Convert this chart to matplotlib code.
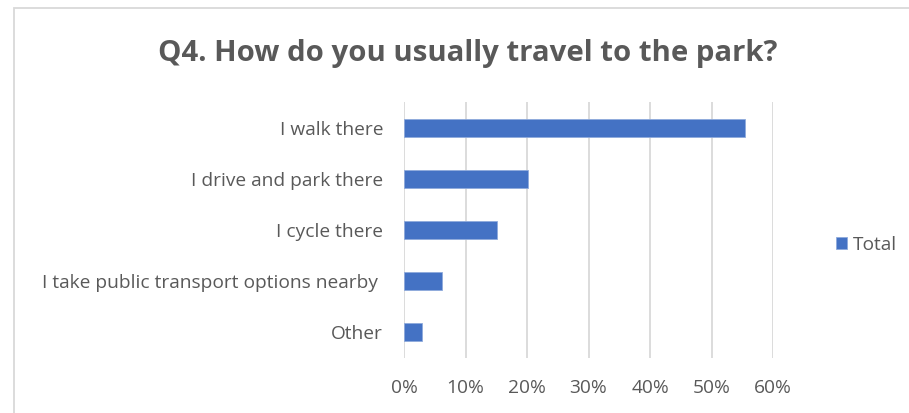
import matplotlib.pyplot as plt
from matplotlib.patches import Rectangle
from matplotlib.ticker import PercentFormatter

categories = ['I walk there', 'I drive and park there', 'I cycle there',
              'I take public transport options nearby ', 'Other']
values = [0.554, 0.202, 0.152, 0.061, 0.030]
ticks = [0, 0.1, 0.2, 0.3, 0.4, 0.5, 0.6]

plt.rcParams['font.family'] = ['Open Sans', 'DejaVu Sans']
grey = '#595959'
blue = '#4472C4'

fig = plt.figure(figsize=(9.09, 4.13), dpi=100)
ax = fig.add_axes([404 / 909, 1 - 358 / 413, 369 / 909, 256 / 413])

ypos = list(range(len(categories)))
ax.barh(ypos, values, height=0.35, color=blue, edgecolor='#8FAADC',
        linewidth=0.6, label='Total', zorder=3)
ax.set_yticks(ypos)
ax.set_yticklabels(categories, fontsize=13.8, color=grey)
ax.set_ylim(len(categories) - 0.5, -0.5)
ax.set_xlim(0, 0.6)
ax.set_xticks(ticks)
ax.xaxis.set_major_formatter(PercentFormatter(1.0, decimals=0))
ax.tick_params(axis='x', labelsize=13.8, labelcolor=grey, length=0, pad=15)
ax.tick_params(axis='y', length=0, pad=15)
ax.grid(axis='x', color='#D9D9D9', linewidth=1.3, zorder=0)
for s in ax.spines.values():
    s.set_visible(False)

fig.text(468 / 909, 1 - 53 / 413, 'Q4. How do you usually travel to the park?',
         ha='center', va='center', fontsize=21.2, fontweight='bold', color=grey)

ax.legend(loc='center left', bbox_to_anchor=(826 / 909, 1 - 245 / 413),
          bbox_transform=fig.transFigure, frameon=False, fontsize=13.8,
          labelcolor=grey, handlelength=0.6, handleheight=0.6,
          handletextpad=0.3, borderpad=0)

fig.patches.append(Rectangle((14 / 909, -0.1), 1.0, 1 - 8 / 413 + 0.1,
                             transform=fig.transFigure, fill=False,
                             edgecolor='#D9D9D9', linewidth=1.3))

fig.savefig('out.png', dpi=100)
